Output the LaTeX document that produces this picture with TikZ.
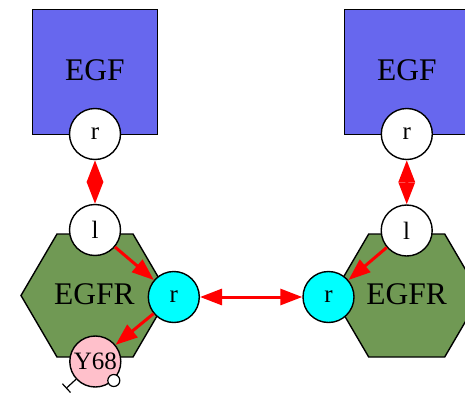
\documentclass[tikz,border=0pt]{standalone}
\usepackage{fontspec}
\setmainfont{Liberation Serif}
\usetikzlibrary{arrows.meta}
\definecolor{egfblue}{RGB}{103,103,238}
\definecolor{egfrgreen}{RGB}{112,153,84}
\definecolor{sitecyan}{RGB}{0,255,255}
\definecolor{sitepink}{RGB}{255,192,203}
\begin{document}
\begin{tikzpicture}[x=1pt,y=-1pt,
  sq/.style={draw=black,line width=1.4pt,fill=egfblue,minimum size=125pt,inner sep=0pt},
  hexa/.style={draw=black,line width=1.4pt,fill=egfrgreen},
  site/.style={circle,draw=black,line width=1.4pt,minimum size=51pt,inner sep=0pt,font=\fontsize{25}{25}\selectfont},
  bigtext/.style={font=\fontsize{31.5}{31.5}\selectfont,inner sep=0pt},
  rarrow/.style={draw=red,line width=3pt,-{Triangle[length=22pt,width=16pt]}},
  rdarrow/.style={draw=red,line width=3pt,{Triangle[length=22pt,width=16pt]}-{Triangle[length=22pt,width=16pt]}},
]
\useasboundingbox (0,0) rectangle (465,393);
\clip (0,0) rectangle (465,393);
% EGF squares
\node[sq] (egfL) at (95,71.8) {};
\node[sq] (egfR) at (406.8,71.8) {};
\node[bigtext] (egfLt) at (95,70) {EGF};
\node[bigtext] (egfRt) at (406.8,70) {EGF};
% EGFR hexagons
\draw[hexa] (21,295.5) -- (57,234) -- (133,234) -- (169,295.5) -- (133,357) -- (57,357) -- cycle;
\draw[hexa] (332.7,295.5) -- (368.7,234) -- (444.7,234) -- (480.7,295.5) -- (444.7,357) -- (368.7,357) -- cycle;
\node[bigtext] (egfrL) at (94.5,294) {EGFR};
\node[bigtext] (egfrR) at (406.7,294) {EGFR};
% sites
\node[site,fill=white] (rL) at (95,134) {r};
\node[site,fill=white] (lL) at (95,230) {l};
\node[site,fill=sitecyan] (cL) at (173.8,297) {r};
\node[site,fill=white] (rR) at (406.8,134) {r};
\node[site,fill=white] (lR) at (406.7,230.5) {l};
\node[site,fill=sitecyan] (cR) at (328.5,297) {r};
\node[site,fill=sitepink] (y68) at (95.3,361.5) {Y68};
\node[circle,draw=black,line width=1.2pt,fill=white,minimum size=12pt,inner sep=0pt] (dot) at (113.8,380.5) {};
% T-bar
\coordinate (tb) at (66,388.5);
\draw[line width=1.2pt,-{Bar[width=12pt,line width=1.2pt]}] (y68) -- (tb);
% arrows
\draw[rdarrow] (rL) -- (lL);
\draw[rdarrow] (rR) -- (lR);
\draw[rarrow] (lL) -- (cL);
\draw[rarrow] (cL) -- (y68);
\draw[rarrow] (lR) -- (cR);
\draw[rdarrow] (cL) -- (cR);
\end{tikzpicture}
\end{document}
